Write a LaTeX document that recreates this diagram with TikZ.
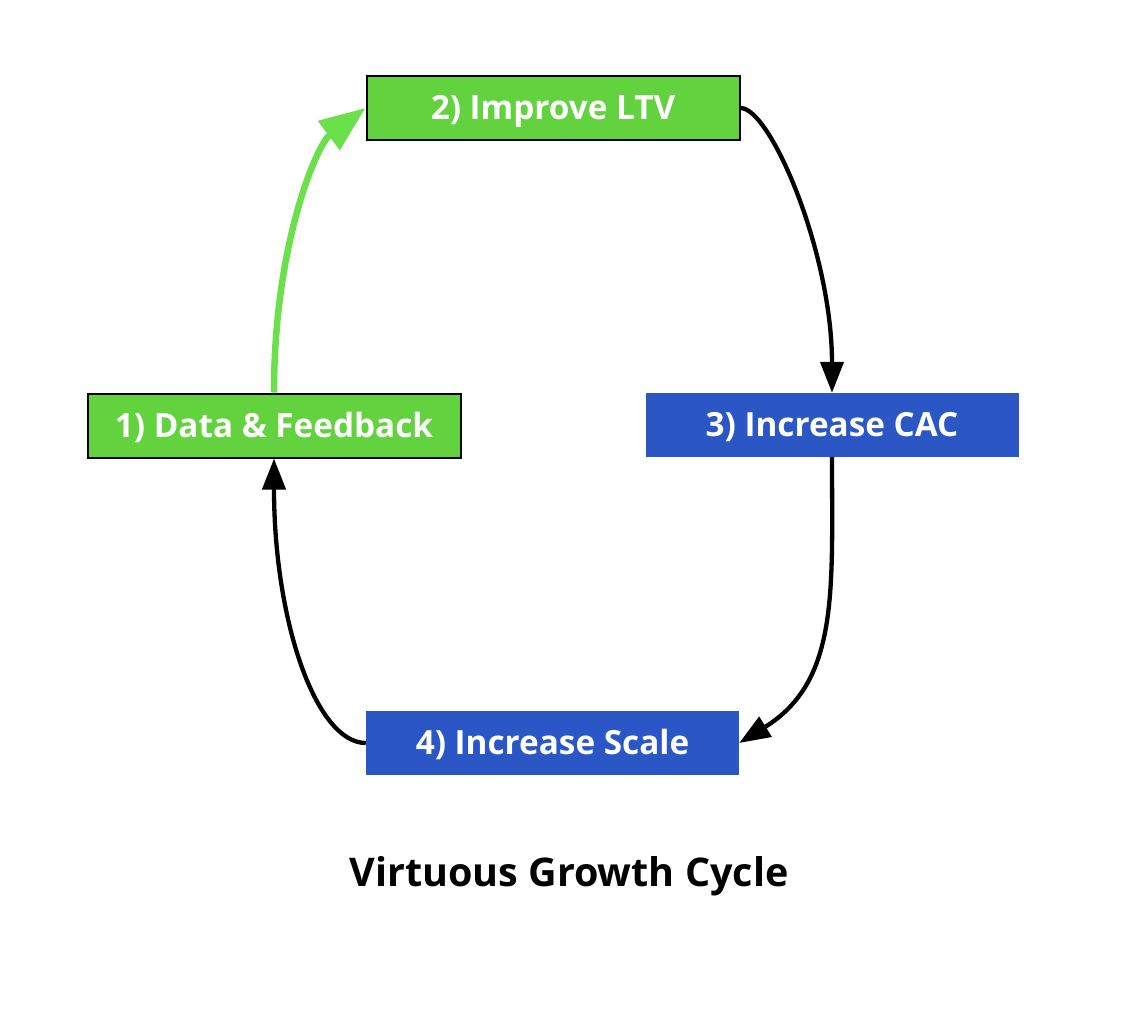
\documentclass[tikz,border=0pt]{standalone}
\usepackage{fontspec}
\setmainfont{Open Sans}
\usetikzlibrary{arrows.meta}
\definecolor{boxgreen}{HTML}{62D33E}
\definecolor{arrgreen}{HTML}{6AE04A}
\definecolor{boxblue}{HTML}{2A56C6}
\tikzset{
  stepbox/.style={rectangle, minimum width=373pt, minimum height=64pt, inner sep=0pt,
    text height=25.5pt, text depth=2pt,
    text=white, font=\fontsize{33.3}{40}\selectfont\bfseries},
  greenbox/.style={stepbox, fill=boxgreen, draw=black, line width=2pt},
  bluebox/.style={stepbox, fill=boxblue},
  blackarrow/.style={draw=black, line width=4.3pt, -{Triangle[length=31pt,width=23pt]}},
  greenarrow/.style={draw=arrgreen, line width=6.5pt, -{Triangle[length=46pt,width=35pt]}},
}
\begin{document}
\begin{tikzpicture}[x=1pt,y=-1pt]
\useasboundingbox (0,0) rectangle (1132,1022);
\node[greenbox] (n1) at (274,425.5) {1) Data \& Feedback};
\node[greenbox] (n2) at (553,108) {2) Improve LTV};
\node[bluebox] (n3) at (832,425) {3) Increase CAC};
\node[bluebox] (n4) at (552.5,743) {4) Increase Scale};
\node[font=\fontsize{39.5}{46}\selectfont\bfseries] (title) at (569,876) {Virtuous Growth Cycle};
\draw[greenarrow] (n1.north) .. controls +(0,-150) and +(-48,36) .. (n2.west);
\draw[blackarrow] (n2.east) .. controls +(30,0) and +(0,-140) .. (n3.north);
\draw[blackarrow] (n3.south) .. controls +(0,135) and +(100,-62) .. (n4.east);
\draw[blackarrow] (n4.west) .. controls +(-50,0) and +(0,162) .. (n1.south);
\end{tikzpicture}
\end{document}
